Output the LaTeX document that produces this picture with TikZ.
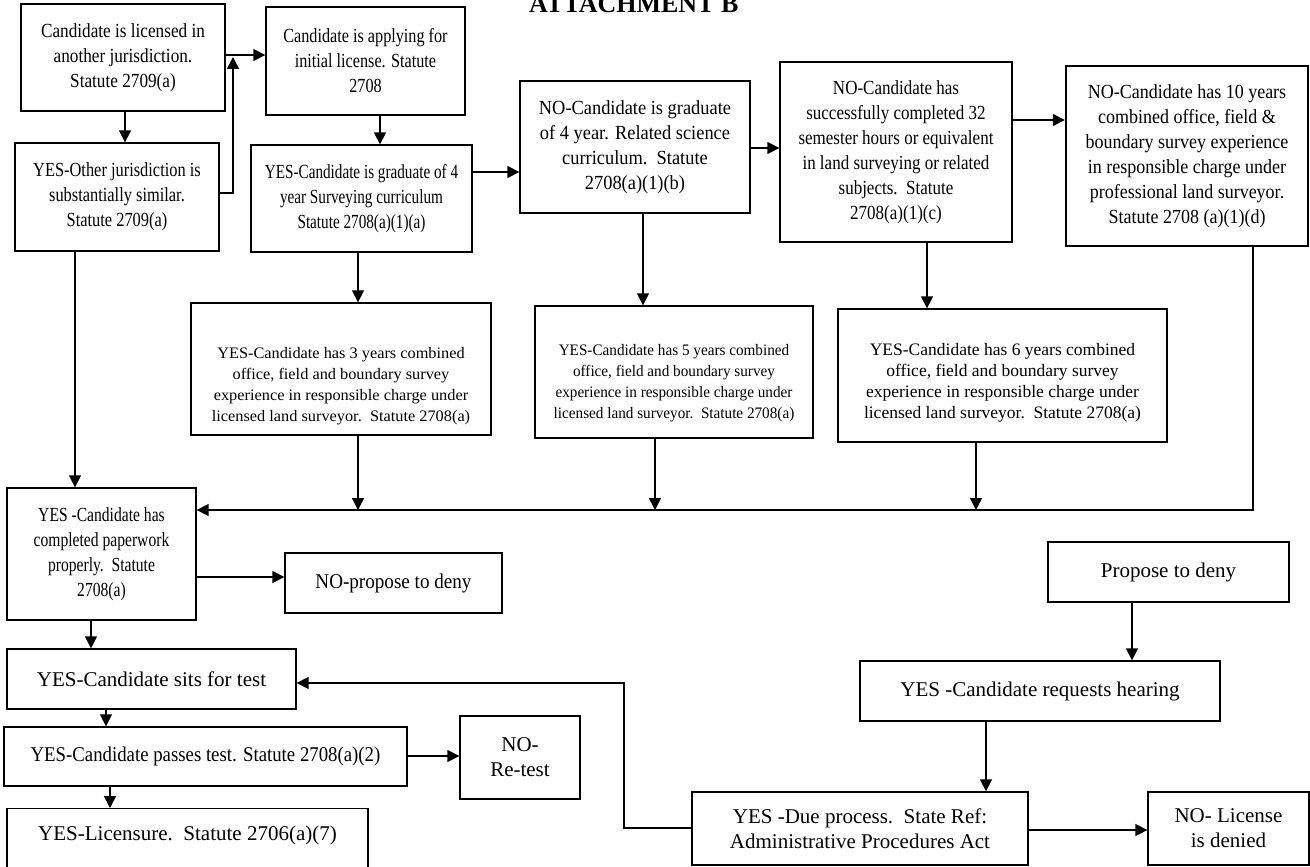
\documentclass[tikz,border=0pt]{standalone}
\usepackage{fontspec}
\setmainfont{Liberation Serif}
\usetikzlibrary{arrows.meta}
\newcommand\cf[3]{\fontspec{Liberation Serif}[FakeStretch=#2]\fontsize{#1}{#3}\selectfont}
\begin{document}
\begin{tikzpicture}[x=1pt,y=-1pt,
  box/.style={draw, line width=1.3pt, inner sep=0pt, align=center},
  txt/.style={inner sep=0pt, align=center},
  arr/.style={line width=1.5pt, -{Triangle[length=12pt,width=12pt]}},
  ln/.style={line width=1.5pt}]
\useasboundingbox (0,0) rectangle (1310,867);
\node[font=\bfseries\fontsize{26}{30}\selectfont, anchor=base west, inner sep=0pt] (title) at (529,12.7) {ATTACHMENT B};
% top row
\node[box, font=\cf{20}{0.86}{25}, minimum width=204pt, minimum height=107pt] (A) at (123,57.5)
  {Candidate is licensed in\\another jurisdiction.\\Statute 2709(a)};
\node[box, font=\cf{20}{0.82}{25}, minimum width=204pt, minimum height=108pt] (B) at (117,197)
  {YES-Other jurisdiction is\\substantially similar.\\Statute 2709(a)};
\node[box, font=\cf{20}{0.81}{25}, minimum width=199pt, minimum height=108pt] (C) at (365.5,61)
  {Candidate is applying for\\initial license. Statute\\2708};
\node[box, font=\cf{20}{0.76}{25}, minimum width=221pt, minimum height=107pt] (D) at (361.5,198.5)
  {YES-Candidate is graduate of 4\\year Surveying curriculum\\Statute 2708(a)(1)(a)};
\node[box, font=\cf{20}{0.92}{25}, minimum width=230pt, minimum height=132pt] (E) at (635,147)
  {NO-Candidate is graduate\\of 4 year. Related science\\curriculum.\ \ Statute\\2708(a)(1)(b)};
\node[box, font=\cf{20}{0.85}{25}, minimum width=232pt, minimum height=180pt] (F) at (896,152)
  {NO-Candidate has\\successfully completed 32\\semester hours or equivalent\\in land surveying or related\\subjects.\ \ Statute\\2708(a)(1)(c)};
\node[box, line width=2.4pt, font=\cf{20}{0.90}{25}, minimum width=242pt, minimum height=180pt] (G) at (1187,156)
  {NO-Candidate has 10 years\\combined office, field \&\\boundary survey experience\\in responsible charge under\\professional land surveyor.\\Statute 2708 (a)(1)(d)};
% middle row
\node[box, minimum width=300pt, minimum height=132pt] (H) at (341,369) {};
\node[txt, font=\cf{16}{1.02}{21}] (Ht) at ([yshift=-17pt]H.center)
  {YES-Candidate has 3 years combined\\office, field and boundary survey\\experience in responsible charge under\\licensed land surveyor.\ \ Statute 2708(a)};
\node[box, minimum width=278pt, minimum height=132pt] (I) at (674,372) {};
\node[txt, font=\cf{16}{0.95}{21}] (It) at ([yshift=-11pt]I.center)
  {YES-Candidate has 5 years combined\\office, field and boundary survey\\experience in responsible charge under\\licensed land surveyor.\ \ Statute 2708(a)};
\node[box, minimum width=329pt, minimum height=133pt] (J) at (1002.5,375.5) {};
\node[txt, font=\cf{17.5}{1.0}{21}] (Jt) at ([yshift=-7pt]J.center)
  {YES-Candidate has 6 years combined\\office, field and boundary survey\\experience in responsible charge under\\licensed land surveyor.\ \ Statute 2708(a)};
% lower left
\node[box, font=\cf{20}{0.78}{25}, minimum width=189pt, minimum height=132pt] (K) at (101.5,554)
  {YES -Candidate has\\completed paperwork\\properly.\ \ Statute\\2708(a)};
\node[box, font=\cf{21}{0.91}{25}, minimum width=217pt, minimum height=60pt] (L) at (393.5,583)
  {NO-propose to deny};
\node[box, font=\cf{21}{1.0}{25}, minimum width=289pt, minimum height=60pt] (M) at (151.5,679)
  {YES-Candidate sits for test};
\node[box, font=\cf{21}{0.895}{25}, minimum width=403pt, minimum height=59pt] (N) at (205.5,756.5)
  {YES-Candidate passes test. Statute 2708(a)(2)};
\node[box, font=\cf{21}{1.0}{25}, minimum width=120pt, minimum height=83pt] (O) at (520,757.5)
  {NO-\\Re-test};
\node[box, font=\cf{21}{1.0}{25}, minimum width=361pt, minimum height=64pt, anchor=north] (P) at (187.5,808)
  {};
\node[txt, font=\cf{21}{1.0}{25}] (Pt) at (187.5,835) {YES-Licensure.\ \ Statute 2706(a)(7)};
% lower right
\node[box, font=\cf{21}{1.0}{25}, minimum width=241pt, minimum height=60pt] (Q) at (1168.5,572)
  {Propose to deny};
\node[box, font=\cf{21}{1.0}{25}, minimum width=360pt, minimum height=60pt] (R) at (1040,691)
  {YES -Candidate requests hearing};
\node[box, font=\cf{21}{1.0}{25}, minimum width=336pt, minimum height=73pt] (S) at (860,828.5)
  {YES -Due process.\ \ State Ref:\\Administrative Procedures Act};
\node[box, font=\cf{21}{1.0}{25}, minimum width=161pt, minimum height=73pt] (T) at (1228.5,828.5)
  {NO- License\\is denied};
% coordinates
\coordinate (jB) at (233,193);
\coordinate (jT) at (233,57);
\coordinate (bG) at (1253,510);
\coordinate (bH) at (358,510);
\coordinate (bI) at (655,510);
\coordinate (bJ) at (976,510);
\coordinate (sB) at (624,828);
\coordinate (sT) at (624,683);
% connectors
\draw[arr] (A.east |- 0,55) -- (C.west |- 0,55);
\draw[arr] (B.east |- 0,193) -- (jB) -- (jT);
\draw[arr] (A.south -| 125,0) -- (B.north -| 125,0);
\draw[arr] (C.south -| 380,0) -- (D.north -| 380,0);
\draw[arr] (D.east |- 0,172) -- (E.west |- 0,172);
\draw[arr] (E.east |- 0,148) -- (F.west |- 0,148);
\draw[arr] (F.east |- 0,120) -- (G.west |- 0,120);
\draw[arr] (D.south -| 358,0) -- (H.north -| 358,0);
\draw[arr] (E.south -| 643,0) -- (I.north -| 643,0);
\draw[arr] (F.south -| 927,0) -- (J.north -| 927,0);
\draw[arr] (B.south -| 75,0) -- (K.north -| 75,0);
\draw[arr] (G.south -| bG) -- (bG) -- (K.east |- bG);
\draw[arr] (H.south -| bH) -- (bH);
\draw[arr] (I.south -| bI) -- (bI);
\draw[arr] (J.south -| bJ) -- (bJ);
\draw[arr] (K.east |- 0,577) -- (L.west |- 0,577);
\draw[arr] (K.south -| 91,0) -- (M.north -| 91,0);
\draw[arr] (M.south -| 106,0) -- (N.north -| 106,0);
\draw[arr] (N.east |- 0,756) -- (O.west |- 0,756);
\draw[arr] (N.south -| 110,0) -- (P.north -| 110,0);
\draw[arr] (Q.south -| 1132,0) -- (R.north -| 1132,0);
\draw[arr] (R.south -| 986,0) -- (S.north -| 986,0);
\draw[arr] (S.east |- 0,830) -- (T.west |- 0,830);
\draw[arr] (S.west |- sB) -- (sB) -- (sT) -- (M.east |- sT);
\end{tikzpicture}
\end{document}
